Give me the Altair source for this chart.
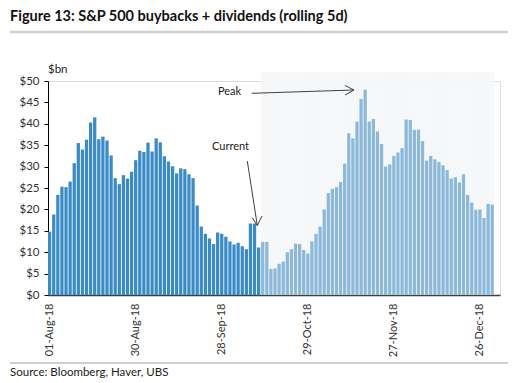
import altair as alt
import pandas as pd

# ---- data ----
VALUES = [
    14.8, 18.8, 23.4, 25.3, 25.2, 26.5, 30.8, 35.5, 34.0, 36.3, 40.3, 41.5, 36.4, 37.0, 36.1, 32.6, 27.3, 25.9, 28.0,
    27.2, 28.8, 31.5, 33.7, 33.4, 35.6, 33.5, 36.6, 35.7, 32.4, 31.2, 30.1, 28.4, 29.6, 29.4, 28.2, 27.3, 20.9, 16.0,
    14.3, 13.2, 11.9, 14.6, 14.3, 13.6, 12.5, 11.8, 12.2, 11.4, 10.7, 16.7, 16.7, 11.1, 12.4, 12.4, 6.1, 6.2, 7.3,
    7.8, 10.0, 10.7, 12.0, 11.9, 10.5, 9.7, 12.5, 14.3, 16.0, 20.0, 23.8, 24.8, 25.2, 26.4, 30.7, 37.8, 36.6, 40.5,
    45.8, 48.0, 40.5, 41.1, 38.2, 35.3, 30.0, 30.5, 32.5, 33.3, 34.3, 41.0, 40.9, 38.6, 38.6, 36.0, 31.4, 32.5, 31.7,
    31.1, 30.3, 29.2, 27.2, 27.5, 26.3, 28.2, 23.4, 21.6, 19.9, 20.0, 18.0, 21.3, 21.1,
]
N_ACTUAL = 52
START_DATE = "2018-08-01"
TICK_LABELS = ["01-Aug-18", "30-Aug-18", "28-Sep-18", "29-Oct-18", "27-Nov-18", "26-Dec-18"]
Y_TICKS = [0, 5, 10, 15, 20, 25, 30, 35, 40, 45, 50]
KINDS = ["actual", "seasonal"]

dates = pd.bdate_range(START_DATE, periods=len(VALUES)).strftime("%d-%b-%y").tolist()
df = pd.DataFrame({
    "date": dates,
    "value": VALUES,
    "kind": [KINDS[0]] * N_ACTUAL + [KINDS[1]] * (len(VALUES) - N_ACTUAL),
})

FONT = "Lato"
W, H = 452, 214
PAD_INNER = 0.2

x_enc = alt.X(
    "date:N", sort=None, title=None,
    scale=alt.Scale(domain=dates, paddingInner=PAD_INNER, paddingOuter=0.75, align=0),
    axis=alt.Axis(values=TICK_LABELS, labelAngle=270, ticks=False, labelPadding=8,
                  domainColor="#404040", domainWidth=1.5, labelFont=FONT, labelFontSize=11,
                  labelColor="#333333", grid=False),
)

base = alt.Chart(df)

shade = base.transform_filter(alt.datum.kind == KINDS[1]).mark_bar(
    color="#F6F7F9", width=alt.RelativeBandSize(1 / (1 - PAD_INNER))
).encode(x=x_enc, y=alt.value(-9), y2=alt.value(H))

bars = base.mark_bar().encode(
    x=x_enc,
    y=alt.Y("value:Q", title=None,
            scale=alt.Scale(domain=[0, 50], nice=False, zero=True),
            axis=alt.Axis(values=Y_TICKS, labelExpr="'$' + datum.value", tickSize=4,
                          tickColor="#000000", domainColor="#000000", grid=False,
                          labelFont=FONT, labelFontSize=11.5, labelColor="#333333",
                          labelPadding=5)),
    color=alt.Color("kind:N", legend=None,
                    scale=alt.Scale(domain=KINDS, range=["#3B8BC7", "#8CB9D9"])),
)


def txt(s, x, y, size=11, weight="normal", color="#222222", baseline="middle"):
    return alt.Chart(df.head(1)).mark_text(
        text=s, align="left", baseline=baseline, font=FONT, fontSize=size,
        fontWeight=weight, color=color
    ).encode(x=alt.value(x), y=alt.value(y))


def seg(x1, y1, x2, y2, color="#404040", w=1.0):
    return alt.Chart(df.head(1)).mark_rule(color=color, strokeWidth=w).encode(
        x=alt.value(x1), y=alt.value(y1), x2=alt.value(x2), y2=alt.value(y2))


annot = [
    txt("Figure 13: S&P 500 buybacks + dividends (rolling 5d)", -38, -60, size=14.5,
        weight="bold", color="#111111", baseline="alphabetic"),
    seg(-38, -49, 468, -49, color="#CFCFCF", w=2.5),
    txt("$bn", 0, -8, size=11.5, baseline="alphabetic"),
    txt("Peak", 170, 11, size=11),
    seg(203.7, 12.3, 306, 9),
    seg(297, 4.5, 306, 9),
    seg(297, 14, 306, 9),
    txt("Current", 164, 66, size=11),
    seg(199.3, 80, 209.3, 144.5),
    seg(204.3, 136.7, 209.3, 144.5),
    seg(214, 135, 209.3, 144.5),
    seg(-38, 282, 468, 282, color="#CFCFCF", w=2),
    txt("Source:  Bloomberg, Haver, UBS", -38, 292, size=11.5, color="#222222"),
]

chart = alt.layer(shade, bars, *annot).properties(
    width=W, height=H,
    autosize=alt.AutoSizeParams(type="none"),
    padding={"left": 40, "top": 73, "right": 8, "bottom": 84},
).configure_view(stroke=None).configure(background="white")

chart.save("out.html", embed_options={"renderer": "svg", "actions": False})
